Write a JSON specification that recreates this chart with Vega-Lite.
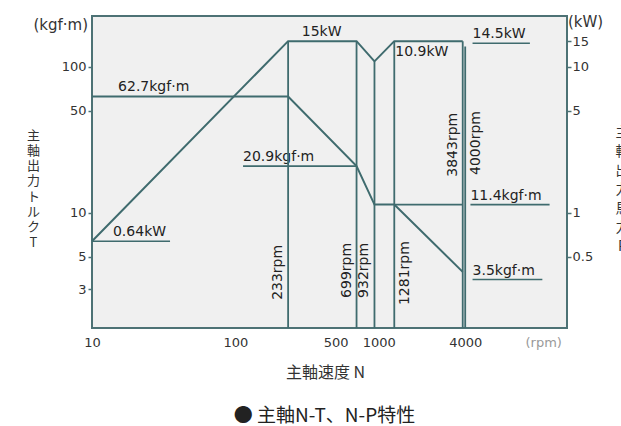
{
  "$schema": "https://vega.github.io/schema/vega-lite/v6.json",
  "width": 475,
  "height": 312,
  "autosize": "none",
  "padding": {"left": 92, "top": 16, "right": 54, "bottom": 98},
  "background": "white",
  "title": {"text": "● 主軸N-T、N-P特性", "orient": "bottom", "font": "Noto Sans CJK JP", "fontSize": 19, "fontWeight": "normal", "anchor": "middle", "offset": 27, "dx": -5, "color": "#222"},
  "config": {
    "font": "DejaVu Sans",
    "view": {"fill": "#f0f0f0", "stroke": "#4d7275", "strokeWidth": 2},
    "axis": {"labelFont": "DejaVu Sans", "labelFontSize": 13, "labelColor": "#333", "titleFont": "Noto Sans CJK JP", "titleFontWeight": "normal", "titleFontSize": 15, "titleColor": "#333", "domain": false, "grid": false, "tickColor": "#4d7275", "tickWidth": 1.5, "labelFlush": false}
  },
  "datasets": {
    "torque": [{"rpm": 10, "t": 62.7}, {"rpm": 233, "t": 62.7}, {"rpm": 699, "t": 20.9}, {"rpm": 932, "t": 11.4}, {"rpm": 1281, "t": 11.4}, {"rpm": 3843, "t": 3.95}],
    "power": [{"rpm": 10, "p": 0.64}, {"rpm": 233, "p": 15}, {"rpm": 699, "p": 15}, {"rpm": 932, "p": 10.9}, {"rpm": 1281, "p": 15}, {"rpm": 3843, "p": 15}],
    "vlines": [{"rpm": 233, "p": 15}, {"rpm": 699, "p": 15}, {"rpm": 932, "p": 10.9}, {"rpm": 1281, "p": 15}, {"rpm": 3843, "p": 15}, {"rpm": 4000, "p": 13.8}],
    "tUnder": [{"rpm": 113, "rpm2": 699, "t": 20.9}, {"rpm": 1281, "rpm2": 3843, "t": 11.4}, {"rpm": 4350, "rpm2": 15500, "t": 11.4}, {"rpm": 4500, "rpm2": 13800, "t": 3.5}],
    "pUnder": [{"rpm": 10, "rpm2": 35, "p": 0.64}, {"rpm": 4500, "rpm2": 11300, "p": 14.5}],
    "tLabels": [{"rpm": 15.2, "t": 62.7, "label": "62.7kgf·m"}, {"rpm": 113, "t": 20.9, "label": "20.9kgf·m"}, {"rpm": 4350, "t": 11.4, "label": "11.4kgf·m"}, {"rpm": 4500, "t": 3.5, "label": "3.5kgf·m"}],
    "pLabels": [{"rpm": 14, "p": 0.64, "label": "0.64kW"}, {"rpm": 290, "p": 15, "label": "15kW"}, {"rpm": 4500, "p": 14.5, "label": "14.5kW"}],
    "rpmLeft": [{"rpm": 233, "t": 2.54, "label": "233rpm"}, {"rpm": 699, "t": 2.62, "label": "699rpm"}, {"rpm": 932, "t": 2.62, "label": "932rpm"}, {"rpm": 3843, "t": 17.7, "label": "3843rpm"}],
    "rpmRight": [{"rpm": 1281, "t": 2.34, "label": "1281rpm"}, {"rpm": 4000, "t": 18.2, "label": "4000rpm"}],
    "units": [{"rpm": 10, "t": 194, "label": "(kgf·m)"}],
    "unitsR": [{"rpm": 20500, "t": 203, "label": "(kW)"}],
    "unitsX": [{"rpm": 14100, "t": 1.63, "label": "(rpm)"}]
  },
  "layer": [
    {
      "layer": [
        {
          "data": {"name": "torque"},
          "mark": {"type": "line", "color": "#3f6b6e", "strokeWidth": 2},
          "encoding": {
            "x": {"field": "rpm", "type": "quantitative", "scale": {"type": "log", "domain": [10, 20500], "nice": false},
                  "axis": {"values": [10, 100, 500, 1000, 4000], "format": "d", "ticks": false, "labelPadding": 8, "title": "主軸速度 N", "titleX": 233, "titleY": 44, "titleBaseline": "middle", "titleFontSize": 16}},
            "y": {"field": "t", "type": "quantitative", "scale": {"type": "log", "domain": [1.63, 223], "nice": false},
                  "axis": {"values": [3, 5, 10, 50, 100], "format": "d", "tickSize": 4, "labelPadding": 2, "title": ["主", "軸", "出", "力", "ト", "ル", "ク", "T"], "titleAngle": 0, "titleX": -59, "titleY": 119, "titleAlign": "center", "titleBaseline": "middle", "titleLineHeight": 15.3, "titleFontSize": 13}}
          }
        },
        {
          "data": {"name": "tUnder"},
          "mark": {"type": "rule", "color": "#3f6b6e", "strokeWidth": 1.6},
          "encoding": {
            "x": {"field": "rpm", "type": "quantitative"},
            "x2": {"field": "rpm2"},
            "y": {"field": "t", "type": "quantitative"}
          }
        },
        {
          "data": {"name": "tLabels"},
          "mark": {"type": "text", "align": "left", "baseline": "alphabetic", "dy": -5, "fontSize": 14, "color": "#222"},
          "encoding": {
            "x": {"field": "rpm", "type": "quantitative"},
            "y": {"field": "t", "type": "quantitative"},
            "text": {"field": "label"}
          }
        },
        {
          "data": {"name": "rpmLeft"},
          "mark": {"type": "text", "angle": 270, "align": "left", "baseline": "bottom", "dy": -3, "fontSize": 14, "color": "#222"},
          "encoding": {
            "x": {"field": "rpm", "type": "quantitative"},
            "y": {"field": "t", "type": "quantitative"},
            "text": {"field": "label"}
          }
        },
        {
          "data": {"name": "rpmRight"},
          "mark": {"type": "text", "angle": 270, "align": "left", "baseline": "top", "dy": 4, "fontSize": 14, "color": "#222"},
          "encoding": {
            "x": {"field": "rpm", "type": "quantitative"},
            "y": {"field": "t", "type": "quantitative"},
            "text": {"field": "label"}
          }
        },
        {
          "data": {"name": "units"},
          "mark": {"type": "text", "align": "right", "baseline": "middle", "dx": -4, "fontSize": 15, "color": "#333"},
          "encoding": {
            "x": {"field": "rpm", "type": "quantitative"},
            "y": {"field": "t", "type": "quantitative"},
            "text": {"field": "label"}
          }
        },
        {
          "data": {"name": "unitsR"},
          "mark": {"type": "text", "align": "left", "baseline": "middle", "dx": 1, "fontSize": 15, "color": "#333"},
          "encoding": {
            "x": {"field": "rpm", "type": "quantitative"},
            "y": {"field": "t", "type": "quantitative"},
            "text": {"field": "label"}
          }
        },
        {
          "data": {"name": "unitsX"},
          "mark": {"type": "text", "align": "center", "baseline": "middle", "dy": 15, "fontSize": 13, "color": "#999"},
          "encoding": {
            "x": {"field": "rpm", "type": "quantitative"},
            "y": {"field": "t", "type": "quantitative"},
            "text": {"field": "label"}
          }
        }
      ]
    },
    {
      "layer": [
        {
          "data": {"name": "power"},
          "mark": {"type": "line", "color": "#3f6b6e", "strokeWidth": 2},
          "encoding": {
            "x": {"field": "rpm", "type": "quantitative"},
            "y": {"field": "p", "type": "quantitative", "scale": {"type": "log", "domain": [0.163, 22.3], "nice": false},
                  "axis": {"orient": "right", "values": [0.5, 1, 5, 10, 15], "format": "~g", "tickSize": 4, "labelPadding": 1, "title": ["主", "軸", "出", "力", "馬", "力", "P"], "titleAngle": 0, "titleX": 55, "titleY": 116, "titleAlign": "center", "titleBaseline": "middle", "titleLineHeight": 19, "titleFontSize": 14}}
          }
        },
        {
          "data": {"name": "vlines"},
          "mark": {"type": "rule", "color": "#3f6b6e", "strokeWidth": 1.8},
          "encoding": {
            "x": {"field": "rpm", "type": "quantitative"},
            "y": {"field": "p", "type": "quantitative"},
            "y2": {"datum": 0.163}
          }
        },
        {
          "data": {"name": "pUnder"},
          "mark": {"type": "rule", "color": "#3f6b6e", "strokeWidth": 1.6},
          "encoding": {
            "x": {"field": "rpm", "type": "quantitative"},
            "x2": {"field": "rpm2"},
            "y": {"field": "p", "type": "quantitative"}
          }
        },
        {
          "data": {"name": "pLabels"},
          "mark": {"type": "text", "align": "left", "baseline": "alphabetic", "dy": -5, "fontSize": 14, "color": "#222"},
          "encoding": {
            "x": {"field": "rpm", "type": "quantitative"},
            "y": {"field": "p", "type": "quantitative"},
            "text": {"field": "label"}
          }
        },
        {
          "data": {"values": [{"rpm": 1281, "p": 15, "label": "10.9kW"}]},
          "mark": {"type": "text", "align": "left", "baseline": "top", "dx": 1, "dy": 4, "fontSize": 14, "color": "#222"},
          "encoding": {
            "x": {"field": "rpm", "type": "quantitative"},
            "y": {"field": "p", "type": "quantitative"},
            "text": {"field": "label"}
          }
        }
      ]
    }
  ],
  "resolve": {"scale": {"y": "independent"}}
}
